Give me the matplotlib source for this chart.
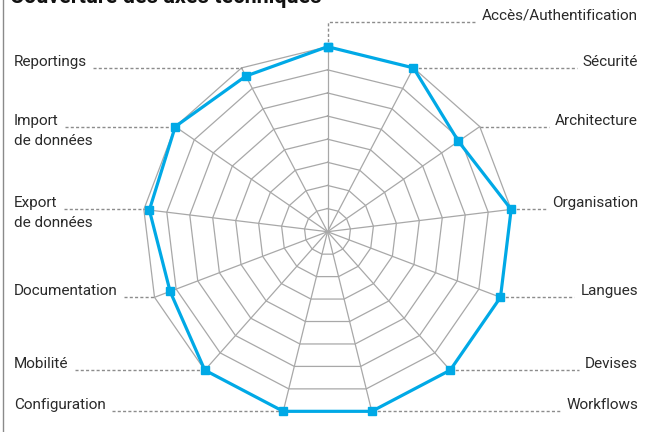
import numpy as np
import matplotlib.pyplot as plt

plt.rcParams['font.family'] = ['Roboto', 'DejaVu Sans']

title = "Couverture des axes techniques"
axis_names = ["Accès/Authentification", "Sécurité", "Architecture", "Organisation",
              "Langues", "Devises", "Workflows", "Configuration", "Mobilité",
              "Documentation", "Export\nde données", "Import\nde données", "Reportings"]
scores = [100, 100, 86, 100, 100, 100, 100, 100, 100, 91, 97, 100, 95]
rings = [12.5, 25, 37.5, 50, 62.5, 75, 87.5, 100]

W, H = 650, 432
cx, cy, k = 327.5, 231.7, 1.85   # centre in pixels, pixels per unit

BLUE = '#00A9E6'
GRID = '#A8A8A8'
LEAD = '#8C8C8C'
TXT = '#2A2A2A'


def px(x, y):
    # pixel (from top-left) -> data coords
    return (x - cx) / k, (cy - y) / k


fig = plt.figure(figsize=(W / 100, H / 100), dpi=100)
ax = fig.add_axes([0, 0, 1, 1])
x0, y1 = px(0, 0)
x1, y0 = px(W, H)
ax.set_xlim(x0, x1)
ax.set_ylim(y0, y1)
ax.axis('off')

n = len(axis_names)
theta = 2 * np.pi * np.arange(n) / n
sx, cy_ = np.sin(theta), np.cos(theta)

# grid rings and spokes
for r in rings:
    ax.plot(np.append(r * sx, r * sx[0]), np.append(r * cy_, r * cy_[0]),
            color=GRID, lw=0.9, zorder=1)
for i in range(n):
    ax.plot([0, rings[-1] * sx[i]], [0, rings[-1] * cy_[i]], color=GRID, lw=0.9, zorder=1)

# data polygon
vals = np.array(scores, dtype=float)
ax.plot(np.append(vals * sx, vals[0] * sx[0]), np.append(vals * cy_, vals[0] * cy_[0]),
        color=BLUE, lw=2.3, marker='s', ms=6.3, zorder=3)

# labels + leader lines
fig.canvas.draw()
rend = fig.canvas.get_renderer()
inv = ax.transData.inverted()
fs = 11
lx_left, _ = px(14, 0)
lx_right, _ = px(638, 0)
gap = 6 / k
up = 2 / k
dash = dict(color=LEAD, lw=1.0, ls=(0, (2.2, 1.6)), zorder=2)
line_step = 20 / k

for i, name in enumerate(axis_names):
    vx, vy = rings[-1] * sx[i], rings[-1] * cy_[i]
    lines = name.split('\n')
    if i == 0:
        _, ty = px(0, 21.7)
        t = ax.text(lx_right, ty + up, lines[0], ha='right', va='baseline',
                    fontsize=fs, color=TXT)
        bb = t.get_window_extent(rend)
        tx0 = inv.transform((bb.x0, bb.y0))[0]
        ax.plot([vx, vx, tx0 - gap], [vy, ty, ty], **dash)
    elif i <= 6:
        t = ax.text(lx_right, vy + up, lines[0], ha='right', va='baseline',
                    fontsize=fs, color=TXT)
        bb = t.get_window_extent(rend)
        tx0 = inv.transform((bb.x0, bb.y0))[0]
        ax.plot([vx, tx0 - gap], [vy, vy], **dash)
    else:
        t = ax.text(lx_left, vy + up, lines[0], ha='left', va='baseline',
                    fontsize=fs, color=TXT)
        for j, extra in enumerate(lines[1:]):
            ax.text(lx_left, vy + up - (j + 1) * line_step, extra, ha='left',
                    va='baseline', fontsize=fs, color=TXT)
        bb = t.get_window_extent(rend)
        tx1 = inv.transform((bb.x1, bb.y0))[0]
        ax.plot([tx1 + gap, vx], [vy, vy], **dash)

# title (cut at the top like the source) and left frame line
tx, ty = px(10, 3)
ax.text(tx, ty, title, ha='left', va='baseline', fontsize=15.5, fontweight='bold',
        color='#111111')
bx, by0 = px(2.5, 0)
_, by1 = px(2.5, H)
ax.plot([bx, bx], [by0, by1], color='#8A8A8A', lw=1.0)

fig.savefig('out.png', dpi=100)
